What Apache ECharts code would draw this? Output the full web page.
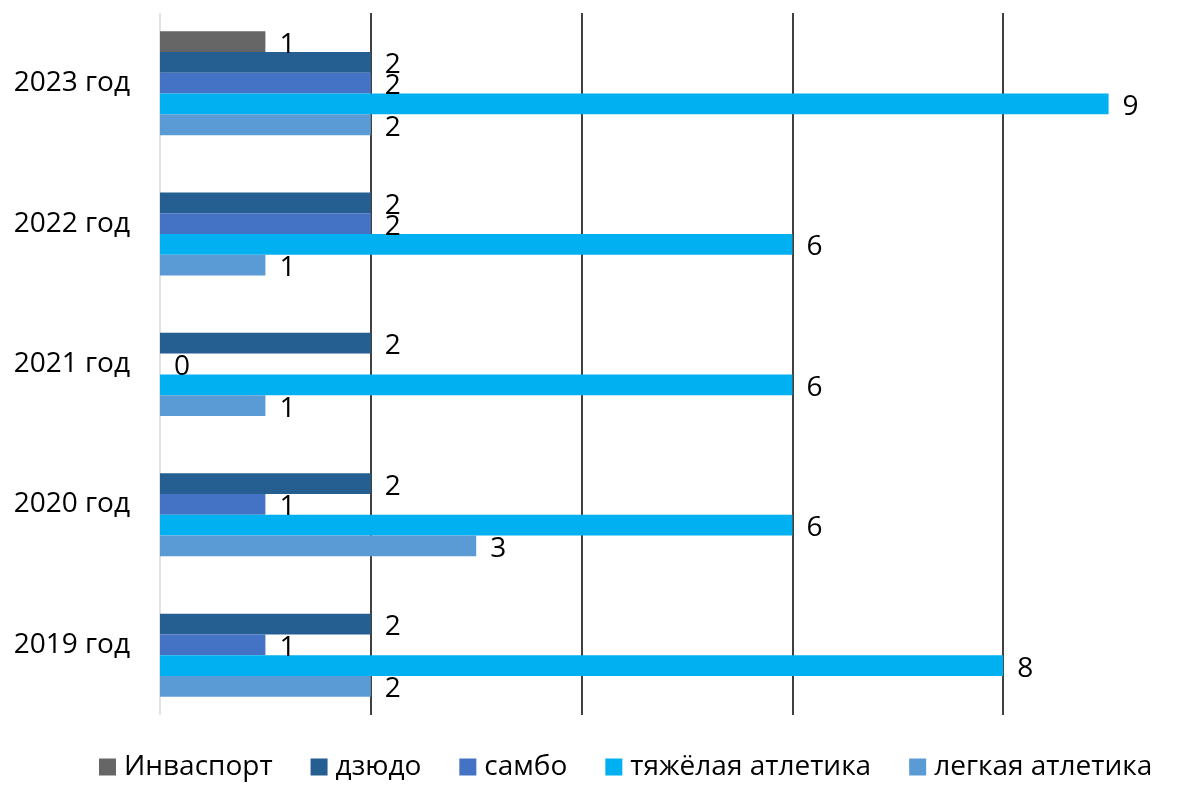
<!DOCTYPE html>
<html>
<head>
<meta charset="utf-8">
<script src="https://cdn.jsdelivr.net/npm/echarts@6/dist/echarts.min.js"></script>
<style>html,body{margin:0;padding:0;background:#fff}#c{width:1202px;height:787px}</style>
</head>
<body>
<div id="c"></div>
<script>
var categories = ['2019 год', '2020 год', '2021 год', '2022 год', '2023 год'];
var seriesNames = ['Инваспорт', 'дзюдо', 'самбо', 'тяжёлая атлетика', 'легкая атлетика'];
var invasport = [null, null, null, null, 1];
var dzudo = [2, 2, 2, 2, 2];
var sambo = [1, 1, 0, 2, 2];
var heavyAthletics = [8, 6, 6, 6, 9];
var lightAthletics = [2, 3, 1, 1, 2];
var colors = ['#666666', '#255E91', '#4472C4', '#00B0F0', '#5B9BD5'];

var FONT = 'Open Sans';
var FS = 28;
var values = [invasport, dzudo, sambo, heavyAthletics, lightAthletics];

var series = seriesNames.map(function (name, i) {
  return {
    name: name,
    type: 'bar',
    data: values[i].map(function (v) { return v === null ? '-' : v; }),
    barGap: '0%',
    barCategoryGap: '26%',
    itemStyle: { color: colors[i] },
    label: {
      show: true,
      position: 'right',
      distance: 14,
      offset: [0, 3],
      color: '#000',
      fontFamily: FONT,
      fontSize: FS
    },
    emphasis: { disabled: true },
    animation: false
  };
});

var chart = echarts.init(document.getElementById('c'));
chart.setOption({
  animation: false,
  grid: { left: 160, width: 1054, top: 13, bottom: 72, containLabel: false, outerBoundsMode: 'none' },
  xAxis: {
    type: 'value',
    min: 0,
    max: 10,
    interval: 2,
    axisLabel: { show: false },
    axisLine: { show: false },
    axisTick: { show: false },
    splitLine: {
      show: true,
      lineStyle: { color: ['#d9d9d9', '#000', '#000', '#000', '#000', '#000'], width: 1.5 }
    }
  },
  yAxis: {
    type: 'category',
    data: categories,
    axisLine: { show: false },
    axisTick: { show: false },
    axisLabel: { color: '#000', fontFamily: FONT, fontSize: FS, margin: 30 }
  },
  legend: {
    data: seriesNames,
    left: 94,
    bottom: 1,
    icon: 'rect',
    itemWidth: 17,
    itemHeight: 17,
    itemGap: 38,
    textStyle: { color: '#000', fontFamily: FONT, fontSize: FS, padding: [0, 0, 0, 3] }
  },
  series: series
});
</script>
</body>
</html>
